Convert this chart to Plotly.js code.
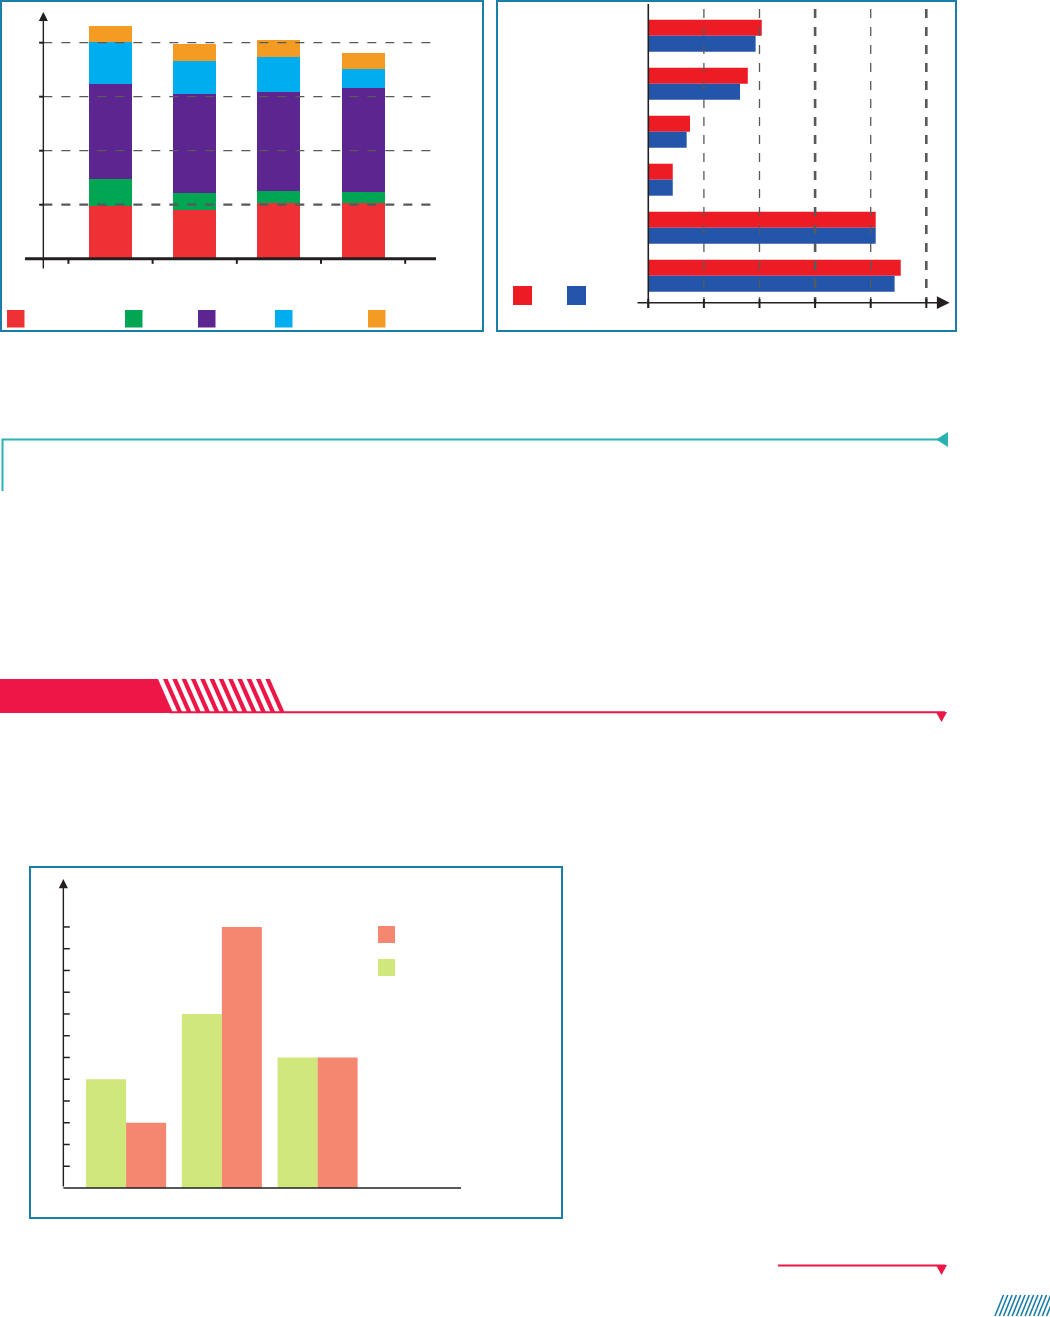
<!DOCTYPE html>
<html>
<head>
<meta charset="utf-8">
<script src="https://cdn.plot.ly/plotly-3.0.1.min.js"></script>
<style>
  html, body { margin: 0; padding: 0; background: #fff; }
  body { width: 1050px; height: 1317px; position: relative; overflow: hidden; font-family: 'Open Sans', sans-serif; }
  .frame { position: absolute; border: 2px solid #1c7ea8; box-sizing: border-box; }
  .plot { position: absolute; }
  #deco { position: absolute; left: 0; top: 0; }
</style>
</head>
<body>
<div class="frame" style="left:0;top:0;width:484px;height:332px"></div>
<div class="frame" style="left:496px;top:0;width:461px;height:332px"></div>
<div class="frame" style="left:29px;top:866px;width:534px;height:353px"></div>
<div id="stack" class="plot" style="left:2px;top:2px;width:480px;height:328px"></div>
<div id="hbar" class="plot" style="left:498px;top:2px;width:457px;height:328px"></div>
<div id="group" class="plot" style="left:31px;top:868px;width:530px;height:349px"></div>
<svg id="deco" width="1050" height="1317"></svg>

<script>
// ---- chart 1: stacked columns ----
var stackX = [0, 1, 2, 3];
var redVals = [19.6, 18.1, 20.6, 20.6];
var greenVals = [9.9, 6.2, 4.4, 4.1];
var purpleVals = [35.2, 36.7, 36.7, 38.5];
var blueVals = [15.6, 12.2, 13.0, 7.0];
var orangeVals = [5.9, 6.3, 6.3, 5.9];
var stackGrid = [20, 40, 60, 80];

// ---- chart 2: horizontal pairs ----
var hbarY = [0, 1, 2, 3, 4, 5];
var redH = [20.4, 17.9, 7.5, 4.4, 40.9, 45.4];
var blueH = [19.3, 16.5, 6.9, 4.4, 40.9, 44.3];
var hbarGrid = [10, 20, 30, 40, 50];

// ---- chart 3: grouped columns ----
var groupX = [0, 1, 2];
var greenG = [5, 8, 6];
var salmonG = [3, 12, 6];
var groupTicks = [1, 2, 3, 4, 5, 6, 7, 8, 9, 10, 11, 12];

var AXIS = '#231f20';
var GRID = '#58595b';

function seg(x0, y0, x1, y1, color, width, dash) {
  return {type: 'line', xref: 'x', yref: 'y', x0: x0, y0: y0, x1: x1, y1: y1,
          line: {color: color, width: width, dash: dash || 'solid'}};
}
function swatch(px0, py0, size, color, pw, ph, offX, offY) {
  // legend square given in frame pixels, turned into paper fractions
  return {type: 'rect', xref: 'paper', yref: 'paper',
          x0: (px0 - offX) / pw, x1: (px0 + size - offX) / pw,
          y0: 1 - (py0 + size - offY) / ph, y1: 1 - (py0 - offY) / ph,
          fillcolor: color, line: {width: 0}};
}
function arrow(x, y, ax, ay, width, size) {
  return {x: x, y: y, ax: ax, ay: ay, xref: 'x', yref: 'y', axref: 'x', ayref: 'y',
          text: '', showarrow: true, arrowhead: 2, arrowsize: size, arrowwidth: width,
          arrowcolor: AXIS, standoff: 0, startstandoff: 0};
}
var config = {displayModeBar: false, staticPlot: true};
function baseLayout(xr, yr) {
  return {
    margin: {l: 0, r: 0, t: 0, b: 0},
    paper_bgcolor: 'rgba(0,0,0,0)', plot_bgcolor: 'rgba(0,0,0,0)',
    showlegend: false,
    xaxis: {range: xr, visible: false, fixedrange: true},
    yaxis: {range: yr, visible: false, fixedrange: true}
  };
}

// chart 1
var c1 = ['#ee3135', '#00a651', '#5d2590', '#00aeef', '#f39b22'];
var series1 = [redVals, greenVals, purpleVals, blueVals, orangeVals];
var data1 = series1.map(function (v, k) {
  return {type: 'bar', x: stackX, y: v, marker: {color: c1[k], line: {width: 0}}, hoverinfo: 'none'};
});
var lay1 = baseLayout([-1.289, 4.412], [-26.4, 95.07]);
lay1.barmode = 'stack';
lay1.bargap = 0.49;
var yAx1 = -0.798;
lay1.shapes = [];
stackGrid.forEach(function (g, k) {
  lay1.shapes.push(seg(yAx1, g, 3.866, g, GRID, k === 0 ? 2.2 : 1.3, 'dash'));
  lay1.shapes.push(seg(yAx1 - 0.05, g, yAx1, g, AXIS, 2));
});
[-0.5, 0.5, 1.5, 2.5, 3.5].forEach(function (t) {
  lay1.shapes.push(seg(t, 0, t, -1.9, AXIS, 2));
});
lay1.shapes.push(seg(-1.015, 0, 3.866, 0, AXIS, 3));
[7, 125, 198, 275, 368].forEach(function (px, k) {
  lay1.shapes.push(swatch(px, 310, 17.5, c1[k], 480, 328, 2, 2));
});
lay1.annotations = [arrow(yAx1, 91.4, yAx1, -4.19, 1.4, 1.3)];
Plotly.newPlot('stack', data1, lay1, config);

// chart 2
var c2 = ['#ed1c24', '#2356ab'];
var data2 = [redH, blueH].map(function (v, k) {
  return {type: 'bar', orientation: 'h', y: hbarY, x: v, marker: {color: c2[k], line: {width: 0}}, hoverinfo: 'none'};
});
var lay2 = baseLayout([-27.03, 55.16], [6.131, -0.702]);
lay2.barmode = 'group';
lay2.bargap = 0.333;
lay2.bargroupgap = 0;
var xAx2 = 5.5625;
lay2.shapes = [];
hbarGrid.forEach(function (g) {
  var thick = (g === 30 || g === 50);
  lay2.shapes.push(seg(g, -0.556, g, xAx2, GRID, thick ? 2.6 : 1.3, 'dash'));
});
[0].concat(hbarGrid).forEach(function (g) {
  lay2.shapes.push(seg(g, 5.485, g, 5.673, AXIS, 2));
});
lay2.shapes.push(seg(0, -0.66, 0, 5.673, AXIS, 1.6));
[513, 567].forEach(function (px, k) {
  lay2.shapes.push(swatch(px, 286, 19, c2[k], 457, 328, 498, 2));
});
lay2.annotations = [arrow(54.2, xAx2, -2.21, xAx2, 1.6, 1.6)];
Plotly.newPlot('hbar', data2, lay2, config);

// chart 3
var c3 = ['#cfe77b', '#f5866f'];
var data3 = [greenG, salmonG].map(function (v, k) {
  return {type: 'bar', x: groupX, y: v, marker: {color: c3[k], line: {width: 0}}, hoverinfo: 'none'};
});
var lay3 = baseLayout([-0.993, 4.542], [-1.333, 14.71]);
lay3.barmode = 'group';
lay3.bargap = 0.164;
lay3.bargroupgap = 0;
var yAx3 = -0.655;
lay3.shapes = [];
groupTicks.forEach(function (t) {
  lay3.shapes.push(seg(yAx3, t, -0.588, t, AXIS, 1.5));
});
lay3.shapes.push(seg(yAx3, 0, 3.498, 0, AXIS, 1.5));
lay3.shapes.push(swatch(378, 926, 17, c3[1], 530, 349, 31, 868));
lay3.shapes.push(swatch(378, 959, 17, c3[0], 530, 349, 31, 868));
lay3.annotations = [arrow(yAx3, 14.2, yAx3, 0, 1.4, 1.3)];
Plotly.newPlot('group', data3, lay3, config);

// ---- page decorations ----
var svg = document.getElementById('deco');
var NS = 'http://www.w3.org/2000/svg';
function el(tag, attrs) {
  var e = document.createElementNS(NS, tag);
  for (var a in attrs) e.setAttribute(a, attrs[a]);
  svg.appendChild(e);
  return e;
}
var TEAL = '#2ab3b3', PINK = '#ec1747', HATCH = '#1c7ea8';
el('path', {d: 'M2.5,491 V439.5 H940', stroke: TEAL, 'stroke-width': 2, fill: 'none'});
el('polygon', {points: '936,439.5 948,432 948,447', fill: TEAL});

el('polygon', {points: '0,679 158,679 173,713 0,713', fill: PINK});
for (var k = 0; k < 12; k++) {
  var x0 = 163 + k * 9.3;
  el('polygon', {points: x0 + ',679 ' + (x0 + 4.6) + ',679 ' + (x0 + 19.6) + ',713 ' + (x0 + 15) + ',713', fill: PINK});
}
el('line', {x1: 170, y1: 712.3, x2: 945, y2: 712.3, stroke: PINK, 'stroke-width': 2});
el('polygon', {points: '936,712 947,712 941.5,722', fill: PINK});

el('line', {x1: 778, y1: 1265.5, x2: 945, y2: 1265.5, stroke: PINK, 'stroke-width': 2});
el('polygon', {points: '936,1265 947,1265 941.5,1275', fill: PINK});

for (var j = 0; j < 13; j++) {
  var bx = 995 + j * 4.3;
  el('line', {x1: bx, y1: 1316, x2: bx + 8.5, y2: 1295, stroke: HATCH, 'stroke-width': 1.6});
}
</script>
</body>
</html>
